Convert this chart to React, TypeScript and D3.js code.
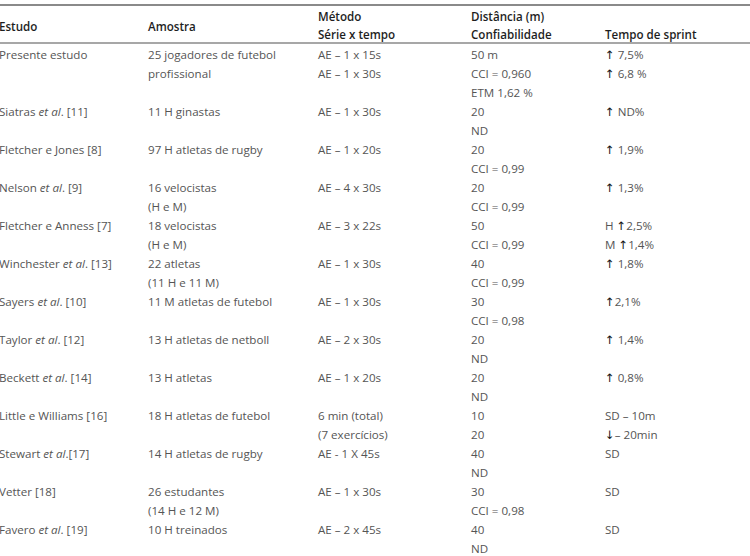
import React from "react";
import * as d3 from "d3";

const headerTop = ["", "", "Método", "Distância (m)", ""];
const headerBottom = ["Estudo", "Amostra", "Série x tempo", "Confiabilidade", "Tempo de sprint"];

const studyNames = [
  "Presente estudo",
  "Siatras *et al*. [11]",
  "Fletcher e Jones [8]",
  "Nelson *et al*. [9]",
  "Fletcher e Anness [7]",
  "Winchester *et al*. [13]",
  "Sayers *et al*. [10]",
  "Taylor *et al*. [12]",
  "Beckett *et al*. [14]",
  "Little e Williams [16]",
  "Stewart *et al*.[17]",
  "Vetter [18]",
  "Favero *et al*. [19]",
];

const amostra = [
  ["25 jogadores de futebol", "profissional"],
  ["11 H ginastas"],
  ["97 H atletas de rugby"],
  ["16 velocistas", "(H e M)"],
  ["18 velocistas", "(H e M)"],
  ["22 atletas", "(11 H e 11 M)"],
  ["11 M atletas de futebol"],
  ["13 H atletas de netboll"],
  ["13 H atletas"],
  ["18 H atletas de futebol"],
  ["14 H atletas de rugby"],
  ["26 estudantes", "(14 H e 12 M)"],
  ["10 H treinados"],
];

const metodo = [
  ["AE – 1 x 15s", "AE – 1 x 30s"],
  ["AE – 1 x 30s"],
  ["AE – 1 x 20s"],
  ["AE – 4 x 30s"],
  ["AE – 3 x 22s"],
  ["AE – 1 x 30s"],
  ["AE – 1 x 30s"],
  ["AE – 2 x 30s"],
  ["AE – 1 x 20s"],
  ["6 min (total)", "(7 exercícios)"],
  ["AE - 1 X 45s"],
  ["AE – 1 x 30s"],
  ["AE – 2 x 45s"],
];

const distancia = [
  ["50 m", "CCI = 0,960", "ETM 1,62 %"],
  ["20", "ND"],
  ["20", "CCI = 0,99"],
  ["20", "CCI = 0,99"],
  ["50", "CCI = 0,99"],
  ["40", "CCI = 0,99"],
  ["30", "CCI = 0,98"],
  ["20", "ND"],
  ["20", "ND"],
  ["10", "20"],
  ["40", "ND"],
  ["30", "CCI = 0,98"],
  ["40", "ND"],
];

const tempoSprint = [
  ["↑ 7,5%", "↑ 6,8 %"],
  ["↑ ND%"],
  ["↑ 1,9%"],
  ["↑ 1,3%"],
  ["H ↑2,5%", "M ↑1,4%"],
  ["↑ 1,8%"],
  ["↑2,1%"],
  ["↑ 1,4%"],
  ["↑ 0,8%"],
  ["SD – 10m", "↓– 20min"],
  ["SD"],
  ["SD"],
  ["SD"],
];

const W = 750;
const H = 556;
const FONT = "'Open Sans', 'DejaVu Sans', sans-serif";
const FS = 11.6;
const BODY = "#555";
const HEAD = "#1e1e1e";

function renderRich(s: string) {
  const parts = s.split("*");
  return parts.map((p, i) => (
    <tspan key={i} fontStyle={i % 2 === 1 ? "italic" : "normal"}>
      {p}
    </tspan>
  ));
}

function renderArrows(s: string) {
  const parts = s.split(/([↑↓])/);
  return parts.map((p, i) =>
    p === "↑" || p === "↓" ? (
      <tspan key={i} fill="#111">
        {p}
      </tspan>
    ) : (
      <tspan key={i}>{p}</tspan>
    )
  );
}

export default function App() {
  const colX = d3.scaleOrdinal<number, number>().domain([0, 1, 2, 3, 4]).range([-1, 148, 318, 471, 605]);
  const lineY = d3.scaleLinear().domain([0, 1]).range([54, 73]);

  const rowLines = studyNames.map((_, i) =>
    Math.max(1, amostra[i].length, metodo[i].length, distancia[i].length, tempoSprint[i].length)
  );
  const rowStart: number[] = [];
  let acc = 0;
  rowLines.forEach((n) => {
    rowStart.push(acc);
    acc += n;
  });

  const cols: string[][][] = [studyNames.map((s) => [s]), amostra, metodo, distancia, tempoSprint];

  return (
    <div style={{ position: "absolute", left: 0, top: 0 }}>
      <svg width={W} height={H} style={{ display: "block", background: "#fff" }}>
        <line x1={0} x2={W} y1={5} y2={5} stroke="#8a8a8a" strokeWidth={2} />
        <line x1={0} x2={W} y1={43} y2={43} stroke="#8a8a8a" strokeWidth={1.5} />
        <g fontFamily={FONT} fontSize={FS} fill={HEAD} fontWeight={600}>
          {headerTop.map((t, i) =>
            t ? (
              <text key={"ht" + i} x={colX(i)} y={16} dominantBaseline="central">
                {t}
              </text>
            ) : null
          )}
          {headerBottom.map((t, i) => (
            <text key={"hb" + i} x={colX(i)} y={i < 2 ? 26 : 34} dominantBaseline="central">
              {t}
            </text>
          ))}
        </g>
        <g fontFamily={FONT} fontSize={FS} fill={BODY}>
          {cols.map((col, ci) =>
            col.map((cell, ri) =>
              cell.map((ln, li) => (
                <text
                  key={`${ci}-${ri}-${li}`}
                  x={colX(ci)}
                  y={lineY(rowStart[ri] + li)}
                  dominantBaseline="central"
                >
                  {ci === 0 ? renderRich(ln) : ci === 4 ? renderArrows(ln) : ln}
                </text>
              ))
            )
          )}
        </g>
      </svg>
    </div>
  );
}
